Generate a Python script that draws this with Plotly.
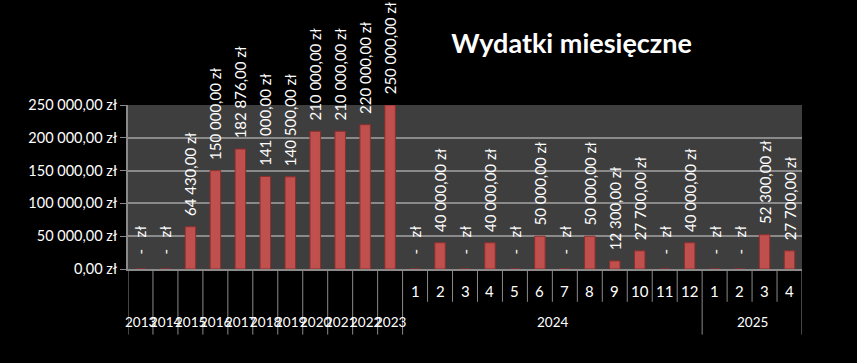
import plotly.graph_objects as go

years = ["2013", "2014", "2015", "2016", "2017", "2018", "2019", "2020", "2021", "2022", "2023"]
year_values = [0, 0, 64430, 150000, 182876, 141000, 140500, 210000, 210000, 220000, 250000]
months_2024 = ["1", "2", "3", "4", "5", "6", "7", "8", "9", "10", "11", "12"]
values_2024 = [0, 40000, 0, 40000, 0, 50000, 0, 50000, 12300, 27700, 0, 40000]
months_2025 = ["1", "2", "3", "4"]
values_2025 = [0, 0, 52300, 27700]
y_ticks = [0, 50000, 100000, 150000, 200000, 250000]
title_text = "Wydatki miesięczne"

NB = "\u00a0"


def pln(v):
    if v == 0:
        return NB * 3 + "-" + NB * 3 + "zł"
    return NB * 2 + f"{v:,.2f}".replace(",", " ").replace(".", ",") + " zł"


groups = [(y, [""], [v]) for y, v in zip(years, year_values)]
groups += [("2024", months_2024, values_2024), ("2025", months_2025, values_2025)]

xs, values, inner_labels = [], [], []
group_spans = []
i = 0
for outer, inners, vals in groups:
    start = i
    for lab, v in zip(inners, vals):
        xs.append(i)
        values.append(v)
        inner_labels.append(lab)
        i += 1
    group_spans.append((outer, start, i - 1))
n = len(xs)

labels = [pln(v) for v in values]
tick_text = [("0,00 zł" if v == 0 else f"{v:,.2f}".replace(",", " ").replace(".", ",") + " zł") for v in y_ticks]

fig = go.Figure()
fig.add_trace(go.Bar(
    x=xs,
    y=values,
    text=labels,
    textposition="outside",
    textangle=-90,
    constraintext="none",
    cliponaxis=False,
    textfont=dict(family="Lato", size=15, color="white"),
    marker=dict(color="#c0504d", line=dict(color="#8c2f2d", width=1)),
    width=0.42,
    hoverinfo="skip",
))

grid_col = "#8a8a8a"
shapes = []
annotations = []
for x, lab in zip(xs, inner_labels):
    if lab:
        annotations.append(dict(x=x, y=-0.134, xref="x", yref="paper", text=lab, showarrow=False,
                                font=dict(family="Lato", size=15, color="white"),
                                xanchor="center", yanchor="middle"))
for outer, s, e in group_spans:
    annotations.append(dict(x=(s + e) / 2, y=-0.323, xref="x", yref="paper", text=outer, showarrow=False,
                            font=dict(family="Liberation Sans Narrow, Lato", size=13.5, color="white"),
                            xanchor="center", yanchor="middle"))
    shapes.append(dict(type="line", xref="x", yref="paper", x0=s - 0.5, x1=s - 0.5, y0=0, y1=-0.40,
                       line=dict(color=grid_col, width=1)))
    for k in range(s + 1, e + 1):
        shapes.append(dict(type="line", xref="x", yref="paper", x0=k - 0.5, x1=k - 0.5, y0=0, y1=-0.20,
                           line=dict(color=grid_col, width=1)))
shapes.append(dict(type="line", xref="x", yref="paper", x0=n - 0.5, x1=n - 0.5, y0=0, y1=-0.40,
                   line=dict(color=grid_col, width=1)))

fig.update_layout(
    width=857, height=363,
    margin=dict(l=128, r=55, t=105, b=94),
    paper_bgcolor="black",
    plot_bgcolor="#3e3e3e",
    showlegend=False,
    title=dict(text=f"<b>{title_text}</b>", x=0.667, xanchor="center", y=0.88, yanchor="middle",
               font=dict(family="Lato", size=27, color="white")),
    font=dict(family="Lato", color="white"),
    shapes=shapes,
    annotations=annotations,
)
fig.update_yaxes(
    range=[0, 250000], tickvals=y_ticks, ticktext=tick_text,
    tickfont=dict(family="Lato", size=14.5, color="white"),
    showgrid=True, gridcolor=grid_col, gridwidth=1.5,
    ticks="outside", ticklen=6, tickcolor=grid_col,
    showline=True, linecolor=grid_col, linewidth=1.5,
    zeroline=False,
)
fig.update_xaxes(
    range=[-0.5, n - 0.5],
    showticklabels=False, ticks="",
    showline=True, linecolor=grid_col, linewidth=1.5,
    showgrid=False, zeroline=False,
)

fig.write_html("out.html")
